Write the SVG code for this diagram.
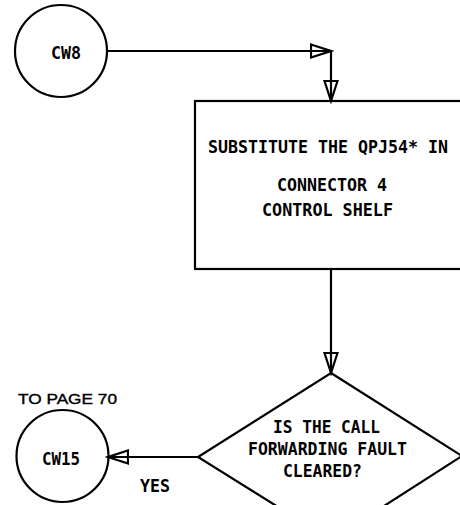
<svg xmlns="http://www.w3.org/2000/svg" width="460" height="505" viewBox="0 0 460 505">
<style>
.ln{fill:none;stroke:#000;stroke-width:2.2}
.t{font-family:"DejaVu Sans Mono",monospace;font-weight:bold;font-size:17px;fill:#000}
.n{font-family:"Liberation Sans",Arial,sans-serif;font-size:15.5px;fill:#000;stroke:#000;stroke-width:0.4}
</style>
<defs>
<marker id="arr" markerUnits="userSpaceOnUse" markerWidth="24" markerHeight="16" viewBox="-1 -8 24 16" refX="20" refY="0" orient="auto">
<path d="M0,-6.5 L20,0 L0,6.5 Z" fill="none" stroke="#000" stroke-width="2.2"/>
</marker>
</defs>
<rect width="460" height="505" fill="#fff"/>
<g id="connectors">
<path class="ln" d="M107,51 H331" marker-end="url(#arr)"/>
<path class="ln" d="M331,51 V101" marker-end="url(#arr)"/>
<path class="ln" d="M331,269 V373" marker-end="url(#arr)"/>
<path class="ln" d="M198,457 H108" marker-end="url(#arr)"/>
</g>
<g id="cw8">
<circle class="ln" cx="61" cy="51" r="46"/>
<text class="t" x="51" y="58.5" textLength="30" lengthAdjust="spacingAndGlyphs">CW8</text>
</g>
<g id="substitute">
<rect class="ln" x="195" y="101" width="280" height="168"/>
<text class="t" x="208" y="153" textLength="240" lengthAdjust="spacingAndGlyphs">SUBSTITUTE THE QPJ54* IN</text>
<text class="t" x="277" y="191" textLength="110" lengthAdjust="spacingAndGlyphs">CONNECTOR 4</text>
<text class="t" x="262" y="216" textLength="131" lengthAdjust="spacingAndGlyphs">CONTROL SHELF</text>
</g>
<g id="decision">
<polygon class="ln" points="331,373 462,456 331,540 198,457"/>
<text class="t" x="273" y="433" textLength="107" lengthAdjust="spacingAndGlyphs">IS THE CALL</text>
<text class="t" x="248" y="455" textLength="159" lengthAdjust="spacingAndGlyphs">FORWARDING FAULT</text>
<text class="t" x="283" y="477" textLength="79" lengthAdjust="spacingAndGlyphs">CLEARED?</text>
</g>
<g id="cw15">
<circle class="ln" cx="62.5" cy="456" r="46"/>
<text class="t" x="42" y="465" textLength="38" lengthAdjust="spacingAndGlyphs">CW15</text>
<text class="n" x="18" y="404" textLength="99" lengthAdjust="spacingAndGlyphs">TO PAGE 70</text>
</g>
<text class="t" x="140" y="492" textLength="30" lengthAdjust="spacingAndGlyphs">YES</text>
</svg>
